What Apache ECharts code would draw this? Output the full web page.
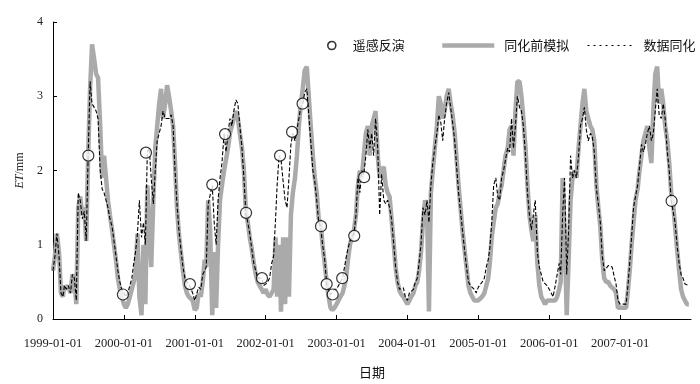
<!DOCTYPE html>
<html><head><meta charset="utf-8">
<script src="https://cdn.jsdelivr.net/npm/echarts@6/dist/echarts.min.js"></script>
<style>html,body{margin:0;padding:0;background:#fff}#c{width:700px;height:384px}</style>
</head><body><div id="c"></div>
<script>
// ---- data ----
const years = [1999, 2000, 2001, 2002, 2003, 2004, 2005, 2006, 2007];
const tickLabels = ['1999-01-01','2000-01-01','2001-01-01','2002-01-01','2003-01-01','2004-01-01','2005-01-01','2006-01-01','2007-01-01'];
const sampleDays = [1, 11, 21]; // dekad samples in each month

// 同化前模拟 (simulated before assimilation), one value per dekad
const sim1999 = [0.65,0.85,1.15,0.9,0.35,0.3,0.45,0.4,0.45,0.35,0.6,0.55,0.2,1.5,1.65,1.4,1.5,1.05,2.2,3.1,3.7,3.5,3.3,3.25,2.6,1.9,2.2,1.9,1.6,1.4,1.2,1.0,0.8,0.55,0.4,0.3];
const sim2000 = [0.2,0.15,0.2,0.3,0.4,0.5,0.6,1.15,0.3,0.05,1.0,0.2,1.8,1.8,0.7,1.6,2.3,2.6,2.9,3.1,2.7,2.9,3.15,3.0,2.8,2.6,2.1,1.5,1.15,0.9,0.65,0.45,0.35,0.3,0.3,0.25];
const sim2001 = [0.12,0.15,0.35,0.3,0.5,0.8,0.7,1.6,1.2,0.05,0.9,0.15,1.0,1.6,1.8,2.0,2.0,2.3,2.5,2.6,2.7,2.8,2.7,2.5,2.3,2.0,1.45,1.3,1.1,0.95,0.75,0.6,0.5,0.45,0.4,0.35];
const sim2002 = [0.4,0.33,0.3,0.35,0.4,1.1,0.3,1.0,0.1,1.1,0.2,1.1,0.3,1.4,1.7,1.9,2.2,2.6,2.9,3.1,3.35,3.4,3.0,2.6,2.2,1.9,1.7,1.35,1.3,1.0,0.75,0.5,0.3,0.15,0.12,0.15];
const sim2003 = [0.2,0.25,0.3,0.35,0.45,0.6,0.8,1.0,1.1,1.2,1.4,1.8,2.0,1.9,2.2,2.5,2.6,2.2,2.6,2.7,2.8,2.2,1.9,2.0,2.05,1.8,1.7,1.65,1.35,1.05,0.7,0.5,0.38,0.33,0.3,0.25];
const sim2004 = [0.2,0.25,0.3,0.35,0.45,0.5,0.65,0.9,1.3,1.6,1.5,0.1,1.7,2.0,2.3,2.6,3.0,2.9,2.7,2.8,3.0,3.1,2.9,2.75,2.5,2.15,1.8,1.5,1.2,0.95,0.7,0.45,0.35,0.3,0.25,0.25];
const sim2005 = [0.25,0.25,0.3,0.35,0.45,0.55,0.75,1.1,1.3,1.5,1.55,1.7,1.8,2.0,2.2,2.3,2.55,2.6,2.2,2.8,3.2,3.2,3.0,2.7,2.3,1.8,1.4,1.2,1.05,1.4,0.75,0.45,0.3,0.25,0.2,0.25];
const sim2006 = [0.25,0.25,0.25,0.25,0.3,0.4,0.5,1.9,1.2,0.05,0.8,1.6,1.9,2.0,1.9,2.3,2.6,2.9,3.1,2.8,2.7,2.6,2.55,2.4,1.8,1.5,1.25,0.8,0.55,0.5,0.5,0.45,0.45,0.4,0.35,0.15];
const sim2007 = [0.15,0.15,0.15,0.15,0.4,0.7,1.0,1.3,1.6,1.75,2.0,2.0,2.4,2.4,2.6,2.3,2.1,2.8,3.3,3.4,2.9,3.1,2.9,2.6,2.4,2.1,1.7,1.55,1.25,0.95,0.65,0.4,0.3,0.25,0.2,0.2];

// 数据同化 (assimilated), one value per dekad
const asm1999 = [0.65,0.85,1.15,0.85,0.35,0.3,0.45,0.4,0.45,0.35,0.6,0.55,0.25,1.7,1.6,1.35,1.45,1.05,2.2,3.2,2.9,2.85,2.8,2.7,2.0,1.75,1.7,1.6,1.5,1.35,1.25,1.05,0.85,0.65,0.5,0.4];
const asm2000 = [0.35,0.3,0.35,0.45,0.55,0.75,0.9,1.15,1.6,1.1,1.3,1.0,2.25,2.3,1.9,1.55,2.0,2.4,2.5,2.6,2.8,2.7,2.7,2.7,2.75,2.6,2.0,1.55,1.2,0.95,0.7,0.55,0.5,0.47,0.45,0.35];
const asm2001 = [0.25,0.25,0.43,0.4,0.6,0.65,0.7,1.55,1.55,1.8,1.3,1.0,1.6,1.9,2.1,2.5,2.25,2.5,2.7,2.6,2.8,2.95,2.9,2.6,2.3,1.9,1.42,1.3,1.15,0.95,0.75,0.65,0.55,0.55,0.55,0.45];
const asm2002 = [0.47,0.5,0.55,0.75,0.85,1.35,1.8,2.2,2.15,1.85,1.6,1.5,1.9,2.35,2.5,2.4,2.55,2.7,2.85,2.9,3.05,3.1,2.75,2.4,2.0,1.85,1.6,1.3,1.25,1.0,0.8,0.47,0.4,0.33,0.32,0.4];
const asm2003 = [0.4,0.45,0.5,0.55,0.7,0.85,0.95,1.05,1.1,1.15,1.4,1.9,1.7,2.0,1.95,2.2,2.55,2.3,2.5,2.2,2.7,2.3,1.4,1.95,1.6,1.55,1.6,1.5,1.35,1.05,0.7,0.5,0.4,0.4,0.42,0.3];
const asm2004 = [0.25,0.35,0.35,0.4,0.5,0.55,0.75,1.0,1.5,1.4,1.6,1.3,1.8,2.1,2.3,2.5,2.75,2.65,2.4,2.7,2.9,3.05,2.85,2.65,2.4,2.05,1.7,1.45,1.2,0.95,0.7,0.5,0.45,0.45,0.4,0.35];
const asm2005 = [0.43,0.45,0.5,0.55,0.7,0.8,0.95,1.3,1.8,1.9,1.65,1.6,1.9,2.0,2.15,2.3,2.25,2.7,2.3,2.6,3.0,2.85,2.8,2.6,2.2,1.7,1.4,1.2,1.2,1.6,0.9,0.7,0.6,0.5,0.5,0.45];
const asm2006 = [0.4,0.35,0.3,0.45,0.6,0.75,0.6,1.4,1.9,0.6,1.2,2.2,1.9,2.0,1.9,2.2,2.6,2.7,2.85,2.55,2.4,2.5,2.45,2.25,1.75,1.55,1.3,0.85,0.65,0.68,0.72,0.72,0.7,0.58,0.47,0.25];
const asm2007 = [0.2,0.2,0.2,0.2,0.47,0.8,1.1,1.5,1.5,1.8,2.05,2.35,2.25,2.35,2.5,2.6,2.4,2.5,2.8,3.1,2.75,2.7,2.9,2.7,2.25,2.0,1.6,1.45,1.3,1.0,0.75,0.6,0.55,0.47,0.45,0.45];

// 遥感反演 (remote-sensing retrievals)
const rsDates = ['1999-07-02','1999-12-27','2000-04-24','2000-12-07','2001-04-01','2001-06-06','2001-09-22','2001-12-13','2002-03-16','2002-05-17','2002-07-10','2002-10-13','2002-11-11','2002-12-12','2003-01-30','2003-04-02','2003-05-23','2007-09-23'];
const rsValues = [2.2,0.33,2.24,0.47,1.81,2.49,1.43,0.55,2.2,2.52,2.9,1.25,0.47,0.33,0.55,1.12,1.91,1.59];

// ---- build ----
function toYear(s){
  const [y,m,d] = s.split('-').map(Number);
  const a = Date.UTC(y,0,1), b = Date.UTC(y+1,0,1);
  return y + (Date.UTC(y,m-1,d) - a) / (b - a);
}
const sampleDates = [];
for (const y of years) for (let m = 1; m <= 12; m++) for (const d of sampleDays)
  sampleDates.push(y + '-' + String(m).padStart(2,'0') + '-' + String(d).padStart(2,'0'));
const simulated = [].concat(sim1999,sim2000,sim2001,sim2002,sim2003,sim2004,sim2005,sim2006,sim2007);
const assimilated = [].concat(asm1999,asm2000,asm2001,asm2002,asm2003,asm2004,asm2005,asm2006,asm2007);
const simData = sampleDates.map((s,i) => [toYear(s), simulated[i]]);
const asmData = sampleDates.map((s,i) => [toYear(s), assimilated[i]]);
const rsData = rsDates.map((s,i) => [toYear(s), rsValues[i]]);

const serif = 'Liberation Serif';
const cjk = 'Noto Sans CJK SC';
const circleLegendText = {fontFamily: cjk, fontSize: 13, color: '#111', padding: [0, 0, 0, 11]};
const lineLegendText = {fontFamily: cjk, fontSize: 13, color: '#111', padding: [0, 0, 0, 5]};
const chart = echarts.init(document.getElementById('c'), null, {renderer: 'canvas'});
chart.setOption({
  animation: false,
  backgroundColor: '#fff',
  grid: {left: 53, right: 9, top: 22, bottom: 62},
  legend: [
    {left: 322, top: 34, itemWidth: 10, itemHeight: 8, data: [{name: '遥感反演', icon: 'circle'}], textStyle: circleLegendText,
     itemStyle: {color: '#fff', borderColor: '#000', borderWidth: 1.6}},
    {left: 435, top: 34, itemWidth: 52, itemHeight: 14, data: ['同化前模拟'], textStyle: lineLegendText,
     itemStyle: {opacity: 0}, lineStyle: {opacity: 1, width: 4.5, color: '#aaaaaa'}},
    {left: 582, top: 34, itemWidth: 46, itemHeight: 14, data: ['数据同化'], textStyle: lineLegendText,
     itemStyle: {opacity: 0}, lineStyle: {opacity: 1, width: 1, color: '#000', type: [2, 4]}}
  ],
  xAxis: {
    type: 'value', min: 1999, max: 2008, interval: 1,
    name: '日期', nameLocation: 'middle', nameGap: 47,
    nameTextStyle: {fontFamily: cjk, fontSize: 13, color: '#111'},
    axisLine: {lineStyle: {color: '#000', width: 1}},
    axisTick: {inside: true, length: 4, lineStyle: {color: '#000'}},
    splitLine: {show: false},
    axisLabel: {
      margin: 18, fontFamily: serif, fontSize: 12.5, color: '#222', showMaxLabel: false,
      formatter: v => { const i = Math.round(v - years[0]); return tickLabels[i] || ''; }
    }
  },
  yAxis: {
    type: 'value', min: 0, max: 4, interval: 1,
    name: '{i|ET}/mm', nameLocation: 'middle', nameGap: 27, nameRotate: 90,
    nameTextStyle: {fontFamily: serif, fontSize: 12, color: '#222', rich: {i: {fontFamily: serif, fontSize: 12, fontStyle: 'italic', color: '#222'}}},
    axisLine: {show: true, lineStyle: {color: '#000', width: 1}},
    axisTick: {show: true, inside: true, length: 4, lineStyle: {color: '#000'}},
    splitLine: {show: false},
    axisLabel: {margin: 10, fontFamily: serif, fontSize: 12, color: '#222'}
  },
  series: [
    {name: '同化前模拟', type: 'line', data: simData, showSymbol: false, symbol: 'none',
     lineStyle: {color: '#aaaaaa', width: 4.5}, itemStyle: {color: '#aaaaaa'}, z: 1},
    {name: '数据同化', type: 'line', data: asmData, showSymbol: false, symbol: 'none',
     lineStyle: {color: '#000', width: 1.1, type: [4, 2]}, itemStyle: {color: '#000'}, z: 2},
    {name: '遥感反演', type: 'scatter', data: rsData, symbol: 'circle', symbolSize: 11,
     itemStyle: {color: '#fff', borderColor: '#000', borderWidth: 1.2}, z: 3}
  ]
});
</script></body></html>
